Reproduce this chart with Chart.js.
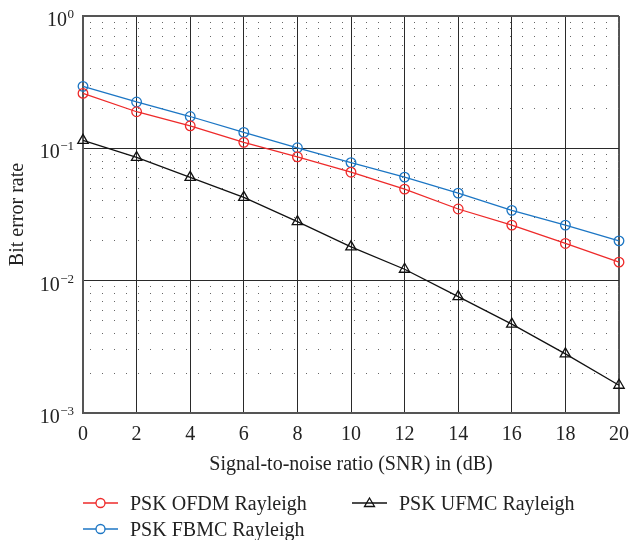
<!DOCTYPE html>
<html>
<head>
<meta charset="utf-8">
<title>BER vs SNR</title>
<script src="https://cdn.jsdelivr.net/npm/chart.js@4.4.1/dist/chart.umd.min.js"></script>
<style>
  body { margin: 0; background: #fff; }
  #wrap { position: relative; width: 629px; height: 540px; }
  #berChart { position: absolute; left: 0; top: 0; }
  #legend {
    position: absolute; left: 83px; top: 490px;
    display: grid; grid-template-columns: 269px auto;
    font: 20px "Liberation Serif", serif; color: #222;
  }
  .item { display: flex; align-items: center; height: 26px; white-space: nowrap; }
  .item svg { margin-right: 12px; }
</style>
</head>
<body>
<div id="wrap">
  <canvas id="berChart" width="629" height="540"></canvas>
  <div id="legend"></div>
</div>
<script>
// SNR in dB
const snr = [0, 2, 4, 6, 8, 10, 12, 14, 16, 18, 20];
// bit error rate for each waveform
const berOfdm = [0.26, 0.189, 0.148, 0.111, 0.0863, 0.066, 0.0492, 0.0348, 0.0263, 0.0191, 0.0138];
const berUfmc = [0.115, 0.0853, 0.0603, 0.0426, 0.0279, 0.018, 0.0122, 0.00757, 0.00469, 0.0028, 0.00162];
const berFbmc = [0.294, 0.224, 0.174, 0.132, 0.101, 0.078, 0.0606, 0.0459, 0.034, 0.0263, 0.02];

const seriesNames = ['PSK OFDM Rayleigh', 'PSK UFMC Rayleigh', 'PSK FBMC Rayleigh'];
const xTicks = [0, 2, 4, 6, 8, 10, 12, 14, 16, 18, 20];
const yDecades = [1e-3, 1e-2, 1e-1, 1];
const yBase = '10';
const yExponents = ['\u22123', '\u22122', '\u22121', '0'];

const RED = 'rgb(238, 42, 42)';
const BLUE = 'rgb(28, 118, 196)';
const BLACK = '#111';
const TEXT = '#222';
const FONT = '"Liberation Serif", "Times New Roman", serif';

const isDecade = v => Math.abs(Math.log10(v) - Math.round(Math.log10(v))) < 1e-6;

function series(label, values, color, style, radius) {
  return {
    label: label,
    data: snr.map((s, i) => ({ x: s, y: values[i] })),
    borderColor: color,
    backgroundColor: 'transparent',
    borderWidth: 1.3,
    pointStyle: style,
    pointRadius: radius,
    pointBorderWidth: 1.3,
    pointBorderColor: color,
    pointBackgroundColor: 'transparent',
    tension: 0,
    clip: false
  };
}

// y tick labels as 10 with a raised exponent
const decadeLabels = {
  id: 'decadeLabels',
  afterDraw(chart) {
    const scale = chart.scales.y;
    const c = chart.ctx;
    const right = scale.right - 9;
    c.save();
    c.fillStyle = TEXT;
    c.textBaseline = 'alphabetic';
    c.textAlign = 'right';
    yDecades.forEach((d, i) => {
      const py = scale.getPixelForValue(d);
      c.font = `13px ${FONT}`;
      const ew = c.measureText(yExponents[i]).width;
      c.fillText(yExponents[i], right, py + 2);
      c.font = `20px ${FONT}`;
      c.fillText(yBase, right - ew - 0.5, py + 10);
    });
    c.restore();
  }
};

const ctx = document.getElementById('berChart').getContext('2d');
const chart = new Chart(ctx, {
  type: 'line',
  data: {
    datasets: [
      series(seriesNames[0], berOfdm, RED, 'circle', 4.8),
      series(seriesNames[1], berUfmc, BLACK, 'triangle', 6),
      series(seriesNames[2], berFbmc, BLUE, 'circle', 4.8)
    ]
  },
  plugins: [decadeLabels],
  options: {
    responsive: false,
    animation: false,
    layout: { padding: { left: 0, top: 16, right: 10, bottom: 63 } },
    plugins: {
      legend: { display: false },
      tooltip: { enabled: false }
    },
    scales: {
      x: {
        type: 'linear',
        min: xTicks[0],
        max: xTicks[xTicks.length - 1],
        afterBuildTicks: scale => { scale.ticks = xTicks.map(v => ({ value: v })); },
        afterFit: scale => {
          scale.height = 64;
          scale.paddingLeft = 0;
          scale.paddingRight = 0;
        },
        ticks: { padding: 10, autoSkip: false, maxRotation: 0, color: TEXT, font: { family: FONT, size: 20 } },
        grid: {
          drawTicks: false,
          color: c => (c.tick && c.tick.value === xTicks[xTicks.length - 1]) ? '#555' : '#2a2a2a',
          lineWidth: c => (c.tick && c.tick.value === xTicks[xTicks.length - 1]) ? 2 : 1
        },
        border: { color: '#555', width: 2 },
        title: {
          display: true,
          text: 'Signal-to-noise ratio (SNR) in (dB)',
          color: TEXT,
          font: { family: FONT, size: 20 },
          padding: { top: 0, bottom: 0 }
        }
      },
      y: {
        type: 'logarithmic',
        min: yDecades[0],
        max: yDecades[yDecades.length - 1],
        afterBuildTicks: scale => {
          const t = [];
          yDecades.forEach((d, i) => {
            if (i < yDecades.length - 1) {
              for (let m = 1; m < 10; m++) t.push({ value: m * d });
            } else {
              t.push({ value: d });
            }
          });
          scale.ticks = t;
        },
        afterFit: scale => {
          scale.width = 83;
          scale.paddingTop = 0;
          scale.paddingBottom = 0;
        },
        ticks: {
          autoSkip: false,
          padding: 10,
          callback: () => ''
        },
        grid: {
          drawTicks: false,
          color: c => {
            if (!c.tick) return '#2a2a2a';
            if (c.tick.value === yDecades[yDecades.length - 1]) return '#555';
            return isDecade(c.tick.value) ? '#2a2a2a' : '#666';
          },
          lineWidth: c => (c.tick && c.tick.value === yDecades[yDecades.length - 1]) ? 2 : 1
        },
        border: {
          color: '#555',
          width: 2,
          dash: c => (c.tick && !isDecade(c.tick.value)) ? [1, 11] : [],
          dashOffset: -6
        },
        title: {
          display: true,
          text: 'Bit error rate',
          color: TEXT,
          font: { family: FONT, size: 20 },
          padding: { top: 6, bottom: 0 }
        }
      }
    }
  }
});

// legend below the plot: line sample with the series marker, then the name
function buildLegend(chart) {
  const box = document.getElementById('legend');
  chart.data.datasets.forEach(ds => {
    const c = ds.borderColor;
    let marker;
    if (ds.pointStyle === 'triangle') {
      marker = `<polygon points="17.5,2 22.5,10.5 12.5,10.5" fill="none" stroke="${c}" stroke-width="1.3"/>`;
    } else {
      marker = `<circle cx="17.5" cy="7" r="4.5" fill="#fff" stroke="${c}" stroke-width="1.3"/>`;
    }
    const item = document.createElement('div');
    item.className = 'item';
    item.innerHTML =
      `<svg width="35" height="14" viewBox="0 0 35 14">` +
      `<line x1="0" y1="7" x2="35" y2="7" stroke="${c}" stroke-width="1.3"/>${marker}</svg>` +
      `<span>${ds.label}</span>`;
    box.appendChild(item);
  });
}
buildLegend(chart);
</script>
</body>
</html>
